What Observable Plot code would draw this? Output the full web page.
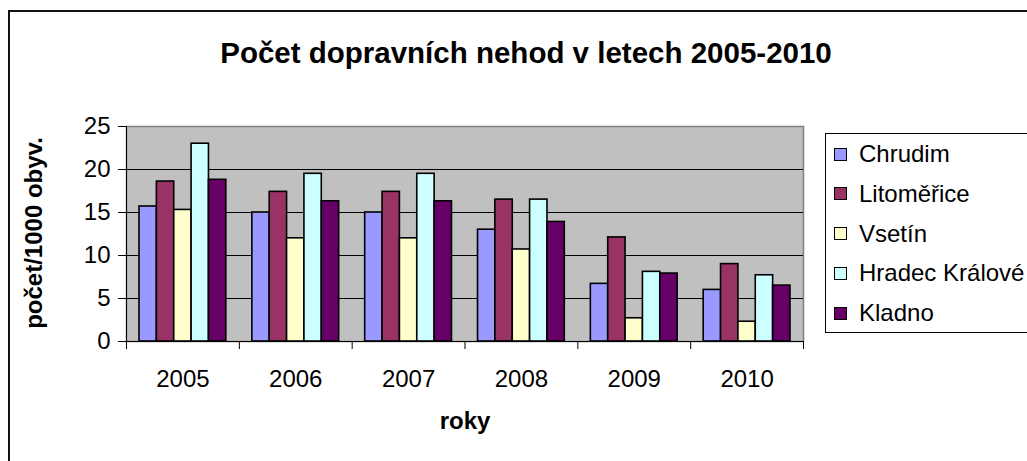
<!DOCTYPE html>
<html>
<head>
<meta charset="utf-8">
<script src="https://cdn.jsdelivr.net/npm/d3@7"></script>
<script src="https://cdn.jsdelivr.net/npm/@observablehq/plot@0.6"></script>
<style>
  html, body { margin: 0; padding: 0; background: #fff; }
  #wrap { position: relative; width: 1027px; height: 461px; overflow: hidden; font-family: "Liberation Sans", Arial, sans-serif; color: #000; }
  #border { position: absolute; left: 8px; top: 10px; width: 1200px; height: 700px; border: 2px solid #111; box-sizing: border-box; }
  #chart { position: absolute; left: 0; top: 0; }
  .title { position: absolute; left: 0; width: 1052px; top: 38px; line-height: 1; text-align: center; font-weight: bold; font-size: 29.5px; white-space: nowrap; }
  .ylab { position: absolute; left: 34px; top: 233px; line-height: 1; transform: translate(-50%, -50%) rotate(-90deg); font-weight: bold; font-size: 24px; white-space: nowrap; }
  .xlab { position: absolute; left: 465px; top: 421px; line-height: 1; transform: translate(-50%, -50%); font-weight: bold; font-size: 24px; white-space: nowrap; }
  #legend { position: absolute; left: 825px; top: 133px; width: 260px; height: 200px; border: 1px solid #000; box-sizing: border-box; background: #fff; }
  .item { position: absolute; left: 8px; height: 26px; display: flex; align-items: center; font-size: 24px; white-space: nowrap; }
  .sw { width: 11px; height: 11px; border: 1px solid #000; margin-right: 12px; }
</style>
</head>
<body>
<div id="wrap">
  <div id="border"></div>
  <div id="chart"></div>
  <div class="title" id="title"></div>
  <div class="ylab" id="ylab"></div>
  <div class="xlab" id="xlab"></div>
  <div id="legend"></div>
</div>
<script>
// ---- data ----
const titleText = "Počet dopravních nehod v letech 2005-2010";
const yTitle = "počet/1000 obyv.";
const xTitle = "roky";
const years = ["2005", "2006", "2007", "2008", "2009", "2010"];
const cities = ["Chrudim", "Litoměřice", "Vsetín", "Hradec Králové", "Kladno"];
const cityColors = ["#9999ff", "#993366", "#ffffcc", "#ccffff", "#660066"];
const chrudim    = [15.7, 15.0, 15.0, 13.0, 6.7, 6.0];
const litomerice = [18.6, 17.4, 17.4, 16.5, 12.1, 9.0];
const vsetin     = [15.3, 12.0, 12.0, 10.7, 2.7, 2.3];
const hradec     = [23.0, 19.5, 19.5, 16.5, 8.1, 7.7];
const kladno     = [18.8, 16.3, 16.3, 13.9, 7.9, 6.5];
const yTicks = [0, 5, 10, 15, 20, 25];

const series = [chrudim, litomerice, vsetin, hradec, kladno];
const rows = [];
years.forEach((year, yi) => {
  cities.forEach((city, ci) => {
    rows.push({year, yi, city, ci, value: series[ci][yi]});
  });
});

// Excel-style clustered columns: gap width 150% of a bar
const gapRatio = 1.5;
const barW = 1 / (cities.length + gapRatio);

const chart = Plot.plot({
  width: 1027,
  height: 461,
  marginLeft: 126,
  marginRight: 224,
  marginTop: 126,
  marginBottom: 120,
  x: {domain: [0, years.length], axis: null},
  y: {domain: [0, 25], axis: null},
  color: {domain: cities, range: cityColors},
  style: {fontFamily: "'Liberation Sans', Arial, sans-serif", fontSize: "24px", color: "#000", background: "transparent", overflow: "visible"},
  marks: [
    Plot.frame({fill: "#c0c0c0", stroke: "#808080", strokeWidth: 1.5}),
    Plot.ruleY(yTicks.filter(t => t > 0 && t < 25), {stroke: "#000", strokeWidth: 1}),
    Plot.rect(rows, {
      x1: d => d.yi + (gapRatio / 2) * barW + d.ci * barW,
      x2: d => d.yi + (gapRatio / 2) * barW + (d.ci + 1) * barW,
      y1: 0,
      y2: "value",
      fill: "city",
      stroke: "#000",
      strokeWidth: 1.6
    }),
    Plot.ruleX([0], {stroke: "#000", strokeWidth: 1}),
    Plot.ruleY([0], {stroke: "#000", strokeWidth: 1}),
    Plot.axisY({ticks: yTicks, tickSize: 8, tickPadding: 8, fontSize: 24, stroke: "#000", label: null}),
    Plot.axisX({ticks: d3.range(years.length + 1), tickSize: 8, tickFormat: () => "", stroke: "#000", label: null}),
    Plot.axisX({ticks: years.map((_, i) => i + 0.5), tickSize: 0, tickPadding: 28, fontSize: 24, label: null, tickFormat: v => years[Math.floor(v)]})
  ]
});
document.getElementById("chart").appendChild(chart);

document.getElementById("title").textContent = titleText;
document.getElementById("ylab").textContent = yTitle;
document.getElementById("xlab").textContent = xTitle;

const legend = document.getElementById("legend");
cities.forEach((city, i) => {
  const item = document.createElement("div");
  item.className = "item";
  item.style.top = (7 + i * 39.75) + "px";
  const sw = document.createElement("span");
  sw.className = "sw";
  sw.style.background = cityColors[i];
  const label = document.createElement("span");
  label.textContent = city;
  item.appendChild(sw);
  item.appendChild(label);
  legend.appendChild(item);
});
</script>
</body>
</html>
